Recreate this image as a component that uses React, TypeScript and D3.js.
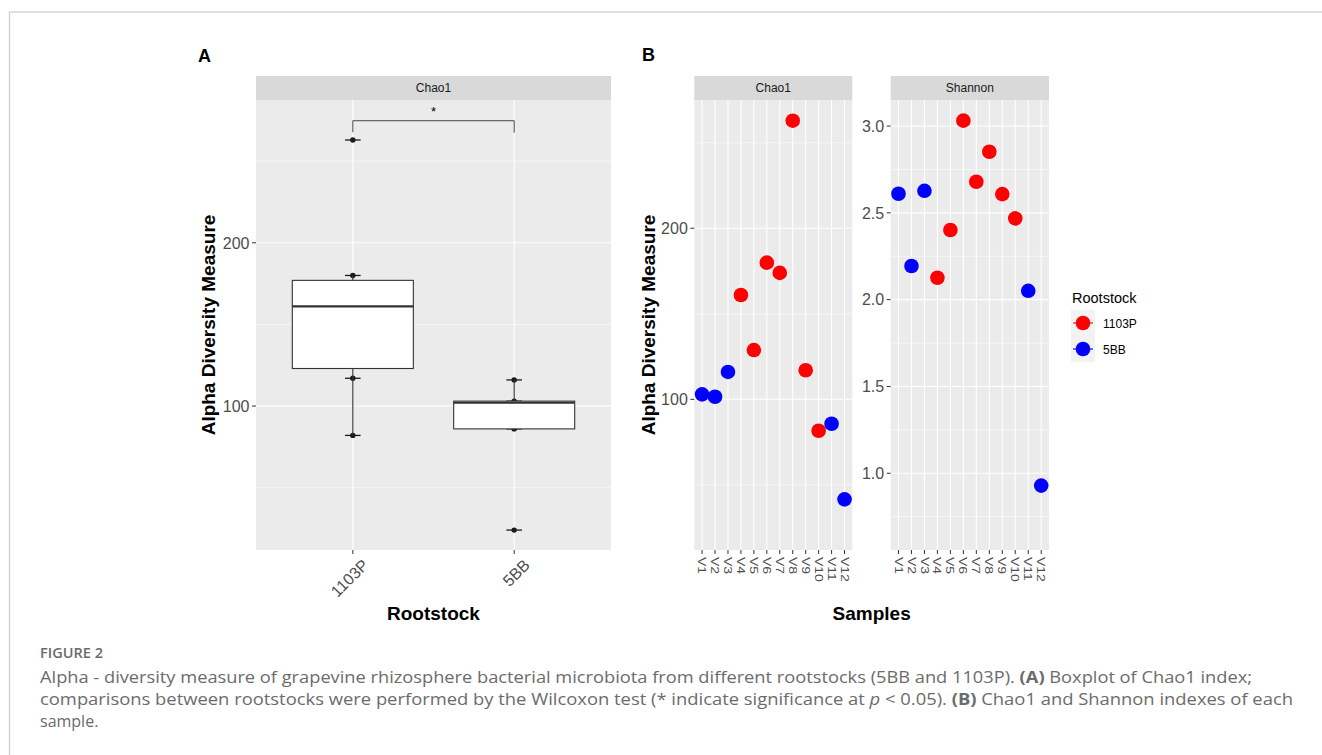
import React from "react";
import * as d3 from "d3";

// Panel A: Chao1 values per rootstock
const rootstocks = ["1103P", "5BB"];
const chaoBox1103P = [82, 117, 129, 161, 174, 180, 263];
const chaoBox5BB = [24, 86, 102, 103, 116];

// Panel B: per-sample values
const samples = ["V1", "V2", "V3", "V4", "V5", "V6", "V7", "V8", "V9", "V10", "V11", "V12"];
const sampleRootstock = ["5BB", "5BB", "5BB", "1103P", "1103P", "1103P", "1103P", "1103P", "1103P", "1103P", "5BB", "5BB"];
const chaoValues = [102.9, 101.5, 116, 161, 128.8, 179.9, 173.9, 262.9, 117, 81.6, 85.7, 41.5];
const shannonValues = [2.61, 2.194, 2.627, 2.126, 2.401, 3.031, 2.679, 2.852, 2.608, 2.468, 2.051, 0.929];

const chaoMajor = [100, 200];
const chaoMinor = [50, 150, 250];
const shannonMajor = [1.0, 1.5, 2.0, 2.5, 3.0];
const shannonMinor = [0.75, 1.25, 1.75, 2.25, 2.75];

const colors: Record<string, string> = { "1103P": "#FF0000", "5BB": "#0000FF" };

const W = 1322;
const H = 755;
const TOP = 100;
const BOTTOM = 550;
const STRIP = 24;
const FONT = "'Liberation Sans', Arial, sans-serif";

const PANEL_BG = "#EBEBEB";
const STRIP_BG = "#D9D9D9";
const TICK_TEXT = "#4D4D4D";

function boxStats(values: number[]) {
  const s = [...values].sort(d3.ascending);
  const q1 = d3.quantile(s, 0.25)!;
  const med = d3.quantile(s, 0.5)!;
  const q3 = d3.quantile(s, 0.75)!;
  const iqr = q3 - q1;
  const lo = d3.min(s.filter((v) => v >= q1 - 1.5 * iqr))!;
  const hi = d3.max(s.filter((v) => v <= q3 + 1.5 * iqr))!;
  return { q1, med, q3, lo, hi };
}

interface FacetProps {
  left: number;
  right: number;
  title: string;
  y: d3.ScaleLinear<number, number>;
  major: number[];
  minor: number[];
  fmt: (v: number) => string;
  xs: number[];
}

// panel background, strip, grid and y axis (ggplot theme_gray look)
const Facet: React.FC<FacetProps> = ({ left, right, title, y, major, minor, fmt, xs }) => (
  <g>
    <rect x={left} y={TOP - STRIP} width={right - left} height={STRIP} fill={STRIP_BG} />
    <text x={(left + right) / 2} y={TOP - STRIP / 2 + 4} textAnchor="middle" fontSize={12} fill="#1A1A1A" fontFamily={FONT}>
      {title}
    </text>
    <rect x={left} y={TOP} width={right - left} height={BOTTOM - TOP} fill={PANEL_BG} />
    {minor.map((v) => (
      <line key={"mi" + v} x1={left} x2={right} y1={y(v)} y2={y(v)} stroke="#fff" strokeWidth={0.55} />
    ))}
    {major.map((v) => (
      <line key={"ma" + v} x1={left} x2={right} y1={y(v)} y2={y(v)} stroke="#fff" strokeWidth={1.1} />
    ))}
    {xs.map((x, i) => (
      <line key={"vx" + i} x1={x} x2={x} y1={TOP} y2={BOTTOM} stroke="#fff" strokeWidth={1.1} />
    ))}
    {major.map((v) => (
      <g key={"t" + v}>
        <line x1={left - 4} x2={left} y1={y(v)} y2={y(v)} stroke="#333" strokeWidth={1} />
        <text x={left - 6.5} y={y(v) + 5.8} textAnchor="end" fontSize={16} fill={TICK_TEXT} fontFamily={FONT}>
          {fmt(v)}
        </text>
      </g>
    ))}
    {xs.map((x, i) => (
      <line key={"xt" + i} x1={x} x2={x} y1={BOTTOM} y2={BOTTOM + 4} stroke="#333" strokeWidth={1} />
    ))}
  </g>
);

const App: React.FC = () => {
  // ---------- Panel A ----------
  const aLeft = 256;
  const aRight = 611;
  const xA = d3.scalePoint<string>().domain(rootstocks).range([aLeft, aRight]).padding(0.6);
  const yA = d3.scaleLinear().domain([11.8, 287.5]).range([BOTTOM, TOP]);
  const boxW = xA.step() * 0.75;
  const groups = [
    { name: "1103P", vals: chaoBox1103P },
    { name: "5BB", vals: chaoBox5BB },
  ];

  // ---------- Panel B ----------
  const cLeft = 694.3;
  const cRight = 852.3;
  const sLeft = 890.7;
  const sRight = 1049;
  const xC = d3.scalePoint<string>().domain(samples).range([cLeft, cRight]).padding(0.6);
  const xS = d3.scalePoint<string>().domain(samples).range([sLeft, sRight]).padding(0.6);
  const yC = d3.scaleLinear().domain([11.9, 275]).range([BOTTOM, TOP]);
  const yS = d3.scaleLinear().domain([0.558, 3.15]).range([BOTTOM, TOP]);

  const bracketY = yA(274.8);
  const x1 = xA("1103P")!;
  const x2 = xA("5BB")!;

  return (
    <svg width={W} height={H} style={{ position: "absolute", left: 0, top: 0, background: "#fff" }} fontFamily={FONT}>
      {/* frame */}
      <line x1={9.5} x2={W} y1={12} y2={12} stroke="#D6D6D6" strokeWidth={1.6} />
      <line x1={9.5} x2={9.5} y1={12} y2={H} stroke="#D0D0D0" strokeWidth={1.4} />

      {/* ===== A ===== */}
      <text x={198} y={62} fontSize={18} fontWeight="bold" fill="#000">A</text>
      <Facet
        left={aLeft}
        right={aRight}
        title="Chao1"
        y={yA}
        major={chaoMajor}
        minor={chaoMinor}
        fmt={(v) => String(v)}
        xs={rootstocks.map((r) => xA(r)!)}
      />
      {groups.map((g) => {
        const cx = xA(g.name)!;
        return (
          <g key={"pts" + g.name}>
            {g.vals.map((v, i) => (
              <g key={i}>
                <line x1={cx - 7.8} x2={cx + 7.8} y1={yA(v)} y2={yA(v)} stroke="#1A1A1A" strokeWidth={1.3} />
                <circle cx={cx} cy={yA(v)} r={2.7} fill="#1A1A1A" />
              </g>
            ))}
          </g>
        );
      })}
      {groups.map((g) => {
        const cx = xA(g.name)!;
        const st = boxStats(g.vals);
        return (
          <g key={"box" + g.name}>
            <line x1={cx} x2={cx} y1={yA(st.hi)} y2={yA(st.q3)} stroke="#333" strokeWidth={1.1} />
            <line x1={cx} x2={cx} y1={yA(st.q1)} y2={yA(st.lo)} stroke="#333" strokeWidth={1.1} />
            <rect
              x={cx - boxW / 2}
              y={yA(st.q3)}
              width={boxW}
              height={yA(st.q1) - yA(st.q3)}
              fill="#fff"
              stroke="#333"
              strokeWidth={1.1}
            />
            <line x1={cx - boxW / 2} x2={cx + boxW / 2} y1={yA(st.med)} y2={yA(st.med)} stroke="#333" strokeWidth={2.2} />
          </g>
        );
      })}
      {/* significance bracket */}
      <path
        d={`M${x1},${bracketY + 11.5}V${bracketY}H${x2}V${bracketY + 12}`}
        fill="none"
        stroke="#333"
        strokeWidth={0.9}
      />
      <text x={(x1 + x2) / 2} y={bracketY - 5} textAnchor="middle" fontSize={13} fill="#000">*</text>

      {rootstocks.map((r) => (
        <text
          key={"xl" + r}
          transform={`translate(${xA(r)! + 8.5},${BOTTOM + 8}) rotate(-45)`}
          textAnchor="end"
          dy="0.72em"
          fontSize={16}
          fill={TICK_TEXT}
        >
          {r}
        </text>
      ))}
      <text x={(aLeft + aRight) / 2} y={620} textAnchor="middle" fontSize={19} fontWeight="bold" fill="#000">
        Rootstock
      </text>
      <text
        transform={`translate(215,${(TOP + BOTTOM) / 2}) rotate(-90)`}
        textAnchor="middle"
        fontSize={19}
        fontWeight="bold"
        fill="#000"
      >
        Alpha Diversity Measure
      </text>

      {/* ===== B ===== */}
      <text x={642} y={61} fontSize={18} fontWeight="bold" fill="#000">B</text>
      <Facet
        left={cLeft}
        right={cRight}
        title="Chao1"
        y={yC}
        major={chaoMajor}
        minor={chaoMinor}
        fmt={(v) => String(v)}
        xs={samples.map((s) => xC(s)!)}
      />
      <Facet
        left={sLeft}
        right={sRight}
        title="Shannon"
        y={yS}
        major={shannonMajor}
        minor={shannonMinor}
        fmt={(v) => v.toFixed(1)}
        xs={samples.map((s) => xS(s)!)}
      />
      {samples.map((s, i) => (
        <circle key={"c" + s} cx={xC(s)!} cy={yC(chaoValues[i])} r={7.3} fill={colors[sampleRootstock[i]]} />
      ))}
      {samples.map((s, i) => (
        <circle key={"s" + s} cx={xS(s)!} cy={yS(shannonValues[i])} r={7.3} fill={colors[sampleRootstock[i]]} />
      ))}
      {[xC, xS].map((sc, k) =>
        samples.map((s) => (
          <text
            key={"bl" + k + s}
            transform={`translate(${sc(s)!},${BOTTOM + 7}) rotate(90) scale(1,0.8)`}
            dy="0.35em"
            fontSize={14}
            fill={TICK_TEXT}
          >
            {s}
          </text>
        ))
      )}
      <text x={(cLeft + sRight) / 2} y={620} textAnchor="middle" fontSize={19} fontWeight="bold" fill="#000">
        Samples
      </text>
      <text
        transform={`translate(655,${(TOP + BOTTOM) / 2}) rotate(-90)`}
        textAnchor="middle"
        fontSize={19}
        fontWeight="bold"
        fill="#000"
      >
        Alpha Diversity Measure
      </text>

      {/* legend */}
      <text x={1072} y={303} fontSize={14.5} fill="#000">Rootstock</text>
      {rootstocks.map((r, i) => {
        const cy = 323 + i * 26;
        return (
          <g key={"lg" + r}>
            <rect x={1071} y={cy - 13} width={24} height={26} fill="#F2F2F2" />
            <line x1={1073} x2={1093} y1={cy} y2={cy} stroke={colors[r]} strokeWidth={1.1} />
            <circle cx={1083} cy={cy} r={7.3} fill={colors[r]} />
            <text x={1103} y={cy + 4.5} fontSize={12} fill="#000">{r}</text>
          </g>
        );
      })}

      {/* caption */}
      <g fontFamily="'Open Sans', 'Noto Sans', sans-serif" fill="#6B6B6B">
        <text x={40} y={658} fontSize={13.5} fontWeight={600} textLength={63} lengthAdjust="spacingAndGlyphs">
          FIGURE 2
        </text>
        <text x={40} y={682.5} fontSize={16} textLength={1212} lengthAdjust="spacingAndGlyphs">
          Alpha - diversity measure of grapevine rhizosphere bacterial microbiota from different rootstocks (5BB and 1103P).{" "}
          <tspan fontWeight="bold">(A)</tspan> Boxplot of Chao1 index;
        </text>
        <text x={40} y={705} fontSize={16} textLength={1253} lengthAdjust="spacingAndGlyphs">
          comparisons between rootstocks were performed by the Wilcoxon test (* indicate significance at{" "}
          <tspan fontStyle="italic">p</tspan> &lt; 0.05). <tspan fontWeight="bold">(B)</tspan> Chao1 and Shannon indexes of each
        </text>
        <text x={40} y={727} fontSize={16}>
          sample.
        </text>
      </g>
    </svg>
  );
};

export default App;
